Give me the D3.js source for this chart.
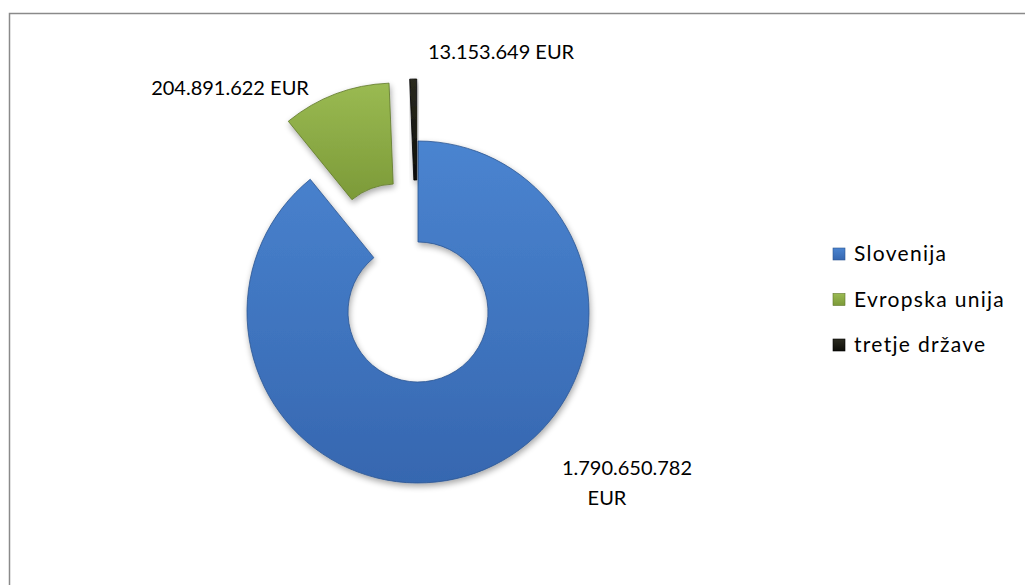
<!DOCTYPE html>
<html>
<head>
<meta charset="utf-8">
<script src="https://cdn.jsdelivr.net/npm/d3@7"></script>
<style>
    body { margin: 0; background: #fff; }
    text { font-family: Lato, "Open Sans", sans-serif; fill: #000; }
</style>
</head>
<body>
<div id="chart"></div>
<script>
// chart data
var categories = ['Slovenija', 'Evropska unija', 'tretje države'];
var values = [1790650782, 204891622, 13153649];
var labels = [['1.790.650.782', 'EUR'], ['204.891.622 EUR'], ['13.153.649 EUR']];
var explode = [0, 62, 62];

var colors = [
    { light: '#4a84d0', dark: '#3667b0', edge: '#2c5690' },
    { light: '#9aba52', dark: '#7c9a38', edge: '#5f772a' },
    { light: '#2b2b20', dark: '#0d0d08', edge: '#000000' }
];

var W = 1025, H = 585;
var cx = 418, cy = 312, outerR = 171, innerR = 70;

var svg = d3.select('#chart')
    .append('svg')
    .attr('width', W)
    .attr('height', H);

var defs = svg.append('defs');

// soft shadow under the slices
var shadow = defs.append('filter')
    .attr('id', 'shadow')
    .attr('x', '-20%').attr('y', '-20%')
    .attr('width', '140%').attr('height', '140%');
shadow.append('feGaussianBlur').attr('in', 'SourceAlpha').attr('stdDeviation', 3);
shadow.append('feOffset').attr('dx', 1).attr('dy', 3).attr('result', 'blur');
shadow.append('feComponentTransfer').append('feFuncA').attr('type', 'linear').attr('slope', 0.35);
var merge = shadow.append('feMerge');
merge.append('feMergeNode');
merge.append('feMergeNode').attr('in', 'SourceGraphic');

colors.forEach(function (c, i) {
    var g = defs.append('linearGradient')
        .attr('id', 'grad' + i)
        .attr('x1', 0).attr('y1', 0).attr('x2', 0).attr('y2', 1);
    g.append('stop').attr('offset', '0%').attr('stop-color', c.light);
    g.append('stop').attr('offset', '100%').attr('stop-color', c.dark);
});

// chart border
svg.append('rect')
    .attr('x', 9.5).attr('y', 13.5)
    .attr('width', W + 20).attr('height', H + 20)
    .attr('fill', 'none')
    .attr('stroke', '#8a8a8a')
    .attr('stroke-width', 1.5);

var pie = d3.pie().sort(null).value(function (d) { return d; });
var arcs = pie(values);

var arc = d3.arc().innerRadius(innerR).outerRadius(outerR);

var plot = svg.append('g')
    .attr('transform', 'translate(' + cx + ',' + cy + ')');

function offsetOf(d, i) {
    var mid = (d.startAngle + d.endAngle) / 2;
    return [Math.sin(mid) * explode[i], -Math.cos(mid) * explode[i]];
}

plot.selectAll('path.slice')
    .data(arcs)
    .enter()
    .append('path')
    .attr('class', 'slice')
    .attr('transform', function (d, i) {
        var o = offsetOf(d, i);
        return 'translate(' + o[0] + ',' + o[1] + ')';
    })
    .attr('d', arc)
    .attr('fill', function (d, i) { return 'url(#grad' + i + ')'; })
    .attr('stroke', function (d, i) { return colors[i].edge; })
    .attr('stroke-width', 0.8)
    .attr('filter', 'url(#shadow)');

// data labels (placed around the slices like the original)
var labelPos = [[209, 163], [-188, -217], [10, -253]];
var labelAnchor = ['middle', 'middle', 'start'];
labels.forEach(function (lines, i) {
    var t = plot.append('text')
        .attr('class', 'label')
        .attr('font-size', 20)
        .attr('text-anchor', labelAnchor[i]);
    lines.forEach(function (line, j) {
        t.append('tspan')
            .attr('x', labelPos[i][0] - (i === 0 && j === 1 ? 20 : 0))
            .attr('y', labelPos[i][1] + j * 30)
            .text(line);
    });
});

// legend
var legend = svg.append('g')
    .attr('transform', 'translate(833,248)');
var item = legend.selectAll('g.item')
    .data(categories)
    .enter()
    .append('g')
    .attr('class', 'item')
    .attr('transform', function (d, i) { return 'translate(0,' + (i * 45.5) + ')'; });
item.append('rect')
    .attr('width', 12).attr('height', 12)
    .attr('fill', function (d, i) { return 'url(#grad' + i + ')'; })
    .attr('stroke', function (d, i) { return colors[i].edge; })
    .attr('stroke-width', 0.6);
item.append('text')
    .attr('x', 21)
    .attr('y', 13)
    .attr('font-size', 21)
    .attr('letter-spacing', 1.3)
    .text(function (d) { return d; });
</script>
</body>
</html>
